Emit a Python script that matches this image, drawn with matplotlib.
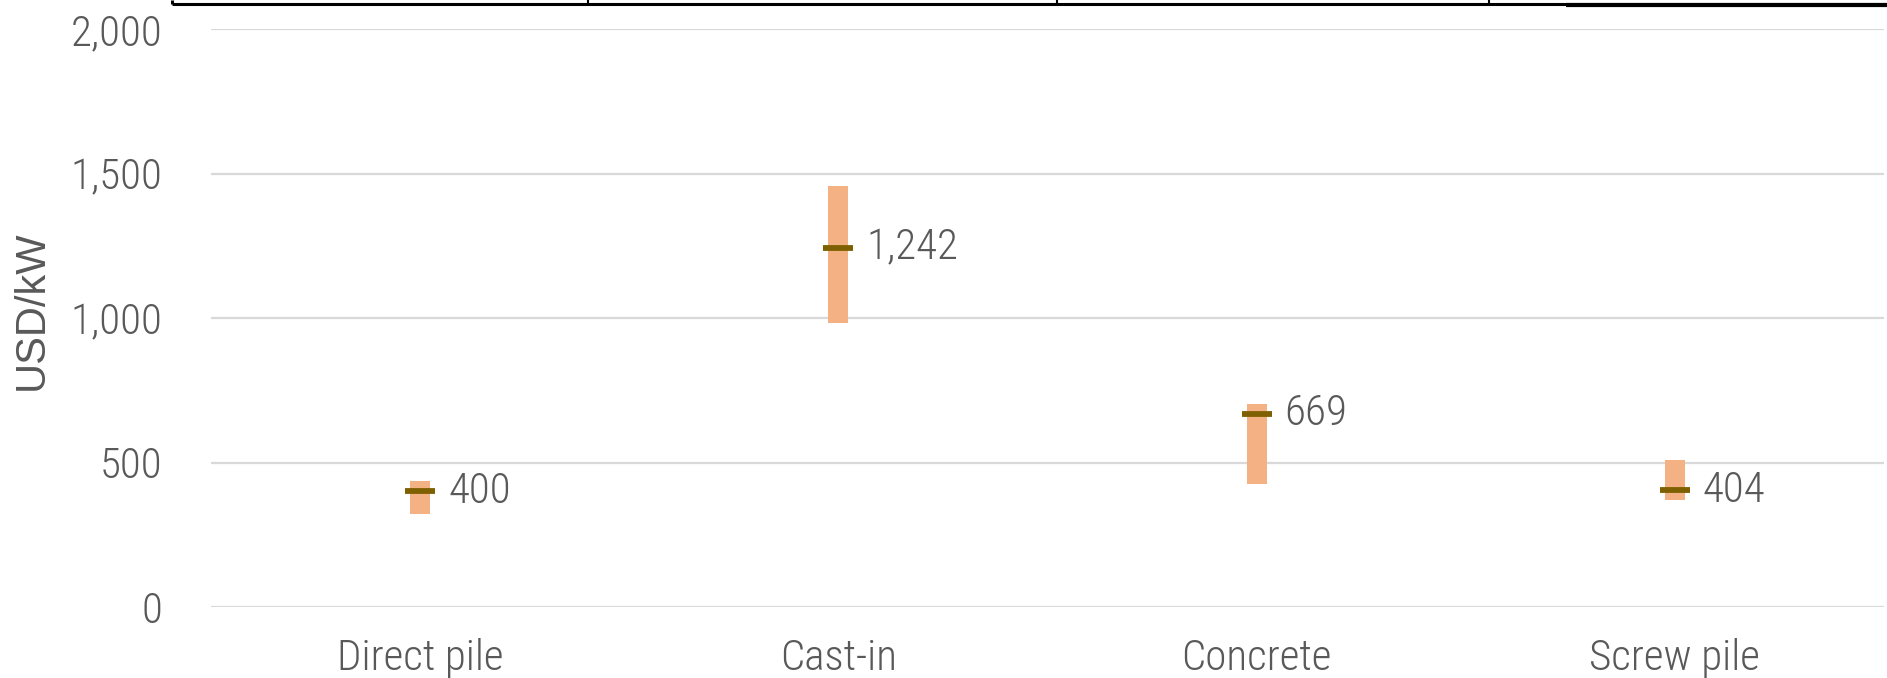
import matplotlib
matplotlib.use("Agg")
import matplotlib.pyplot as plt
from matplotlib import font_manager as fm
from matplotlib.lines import Line2D
from matplotlib.ticker import FuncFormatter

# Foundation cost ranges (USD/kW)
categories = ["Direct pile", "Cast-in", "Concrete", "Screw pile"]
range_low = [322, 983, 427, 371]
range_high = [436, 1457, 702, 509]
central = [400, 1242, 669, 404]

W, H, DPI = 1887, 678, 100


def pick_font(cands):
    have = {(f.name, f.weight) for f in fm.fontManager.ttflist if f.style == "normal"}
    for name, weight in cands:
        if (name, weight) in have:
            return name, weight
    return "DejaVu Sans", 300


light_font, light_weight = pick_font([
    ("Roboto Condensed", 300),
    ("Encode Sans Condensed", 300),
    ("Noto Sans CJK JP", 300),
    ("Roboto", 300),
])
label_font = "Liberation Sans"
FS = 31

grey = "#595959"
bar_color = "#F4B183"
mid_color = "#7F6000"
grid_color = "#D9D9D9"

fig = plt.figure(figsize=(W / DPI, H / DPI), dpi=DPI)
ax = fig.add_axes([211 / W, 1 - 607 / H, (1884 - 211) / W, (607 - 29) / H])

x = list(range(len(categories)))
heights = [h - l for l, h in zip(range_low, range_high)]
ax.bar(x, heights, bottom=range_low, width=0.048, color=bar_color, zorder=3)
ax.hlines(central, [i - 0.036 for i in x], [i + 0.036 for i in x],
          colors=mid_color, linewidth=4.2, zorder=4)

for i, v in zip(x, central):
    ax.annotate(f"{v:,}", xy=(i + 0.036, v), xytext=(13, 0), textcoords="offset pixels",
                ha="left", va="center", fontsize=FS, color=grey,
                family=light_font, fontweight=light_weight, zorder=5)

ax.set_xlim(-0.5, len(categories) - 0.5)
ax.set_ylim(0, 2000)
ax.set_yticks([0, 500, 1000, 1500, 2000])
ax.yaxis.set_major_formatter(FuncFormatter(lambda v, p: f"{int(v):,}"))
ax.set_xticks(x)
ax.set_xticklabels(categories)

ax.grid(axis="y", color=grid_color, linewidth=1.6, zorder=0)
ax.set_axisbelow(True)
for s in ax.spines.values():
    s.set_visible(False)
ax.tick_params(axis="both", length=0, labelcolor=grey)
ax.tick_params(axis="y", pad=35)
ax.tick_params(axis="x", pad=22)
for lab in ax.get_yticklabels() + ax.get_xticklabels():
    lab.set_fontfamily(light_font)
    lab.set_fontweight(light_weight)
    lab.set_fontsize(FS)

fig.text(32 / W, 1 - 310 / H, "USD/kW", rotation=90, ha="center", va="center",
         fontsize=30, color=grey, family=label_font)

# Frame edge along the top of the figure
def fx(px):
    return px / W


def fy(py):
    return 1 - py / H


frame = [
    ([fx(172), fx(W)], [fy(3.5), fy(3.5)], 2.2),
    ([fx(172), fx(172)], [fy(0), fy(3.5)], 2.2),
    ([fx(588), fx(588)], [fy(0), fy(3.5)], 1.5),
    ([fx(1057), fx(1057)], [fy(0), fy(3.5)], 1.5),
    ([fx(1489), fx(1489)], [fy(0), fy(3.5)], 1.5),
    ([fx(1566), fx(W)], [fy(5), fy(5)], 3.0),
]
for xs, ys, lw in frame:
    fig.add_artist(Line2D(xs, ys, transform=fig.transFigure, color="black",
                          linewidth=lw, solid_capstyle="butt"))

fig.savefig("out.png", dpi=DPI)
